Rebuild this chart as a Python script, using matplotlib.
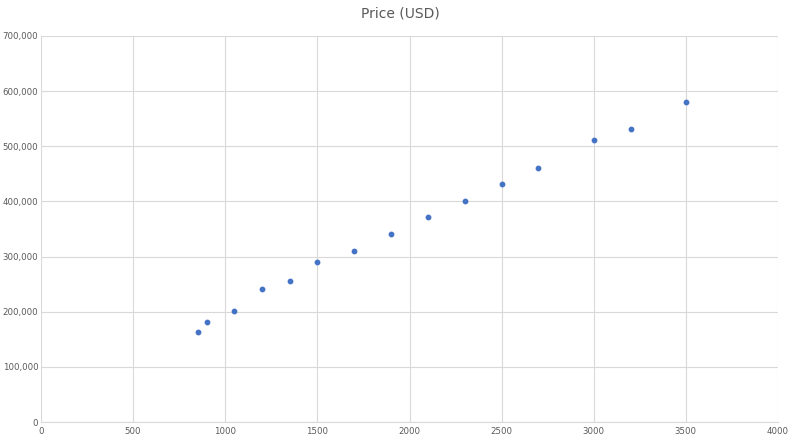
import matplotlib.pyplot as plt
from matplotlib.ticker import FuncFormatter

size_sqft = [850, 900, 1050, 1200, 1350, 1500, 1700, 1900, 2100, 2300, 2500, 2700, 3000, 3200, 3500]
price_usd = [163000, 182000, 201000, 242000, 256000, 291000, 311000, 341000, 371000,
             401000, 431000, 461000, 511000, 531000, 581000]

fig = plt.figure(figsize=(8, 4.46), dpi=100)
ax = fig.add_axes([41 / 800, 24 / 446, 737 / 800, 386 / 446])
ax.scatter(size_sqft, price_usd, s=10, color="#4472C4", zorder=3)

ax.set_xlim(0, 4000)
ax.set_ylim(0, 700000)
ax.set_xticks(range(0, 4001, 500))
ax.set_yticks(range(0, 700001, 100000))
ax.yaxis.set_major_formatter(FuncFormatter(lambda v, _: f"{int(v):,}"))
ax.grid(True, color="#D9D9D9", linewidth=0.8)
ax.set_axisbelow(True)
for side in ["top", "right", "left"]:
    ax.spines[side].set_visible(False)
ax.spines["bottom"].set_color("#D9D9D9")
ax.tick_params(length=0, labelsize=6.2, colors="#595959")
ax.tick_params(axis="y", pad=2)
fig.suptitle("Price (USD)", y=0.985, fontsize=10, color="#595959")

fig.savefig("out.png", dpi=100)
